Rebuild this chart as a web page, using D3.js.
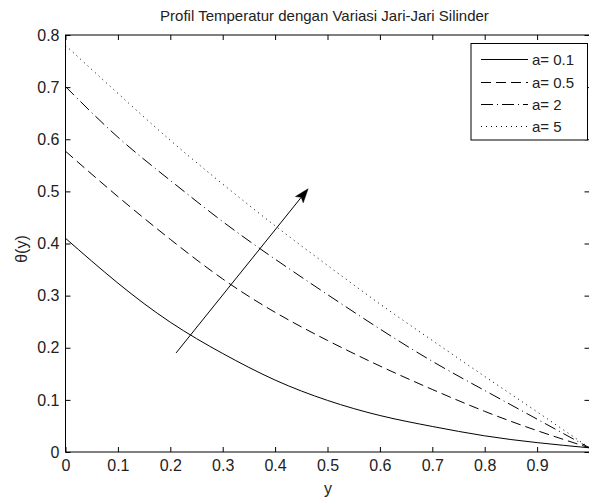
<!DOCTYPE html>
<html>
<head>
<meta charset="utf-8">
<script src="https://cdn.jsdelivr.net/npm/d3@7"></script>
<style>
html,body{margin:0;padding:0;background:#fff;}
svg{display:block;font-family:"Liberation Sans",Arial,sans-serif;}
</style>
</head>
<body>
<svg id="chart" width="589" height="498"></svg>
<script>
const xVals = [0, 0.1, 0.2, 0.3, 0.4, 0.5, 0.6, 0.7, 0.8, 0.9, 1.0];
const seriesA01 = [0.410, 0.324, 0.249, 0.189, 0.138, 0.099, 0.070, 0.049, 0.031, 0.018, 0.008];
const seriesA05 = [0.577, 0.490, 0.408, 0.332, 0.268, 0.214, 0.165, 0.120, 0.078, 0.041, 0.008];
const seriesA2  = [0.701, 0.604, 0.521, 0.442, 0.370, 0.302, 0.236, 0.174, 0.118, 0.063, 0.008];
const seriesA5  = [0.780, 0.688, 0.598, 0.514, 0.434, 0.358, 0.284, 0.214, 0.145, 0.077, 0.008];
const seriesNames = ["a= 0.1", "a= 0.5", "a= 2", "a= 5"];
const xTicks = [0, 0.1, 0.2, 0.3, 0.4, 0.5, 0.6, 0.7, 0.8, 0.9];
const xTickLabels = ["0", "0.1", "0.2", "0.3", "0.4", "0.5", "0.6", "0.7", "0.8", "0.9"];
const yTicks = [0, 0.1, 0.2, 0.3, 0.4, 0.5, 0.6, 0.7, 0.8];
const yTickLabels = ["0", "0.1", "0.2", "0.3", "0.4", "0.5", "0.6", "0.7", "0.8"];
const arrowFrom = [0.211, 0.19];
const arrowTo = [0.463, 0.505];
const titleText = "Profil Temperatur dengan Variasi Jari-Jari Silinder";
const xLabel = "y";
const yLabel = "θ(y)";

const dashes = [null, "10,5", "12,4,1,4", "1,4"];
const allSeries = [seriesA01, seriesA05, seriesA2, seriesA5];

const svg = d3.select("#chart");
const L = 65.5, R = 589.5, T = 35, B = 452;
const x = d3.scaleLinear().domain([0, 1]).range([L, R]);
const y = d3.scaleLinear().domain([0, 0.8]).range([B, T]);

svg.append("rect").attr("width", 589).attr("height", 498).attr("fill", "#fff");

// curves
const line = d3.line().x((d, i) => x(xVals[i])).y(d => y(d)).curve(d3.curveNatural);
allSeries.forEach((s, k) => {
  const p = svg.append("path").datum(s).attr("d", line)
    .attr("fill", "none").attr("stroke", "#000").attr("stroke-width", 1);
  if (dashes[k]) p.attr("stroke-dasharray", dashes[k]);
});

// axes
function styleAxis(g) {
  g.select(".domain").remove();
  g.selectAll(".tick line").attr("stroke", "#000");
  g.selectAll("text").attr("fill", "#222").style("font-size", "16px")
    .style("font-family", '"Liberation Sans", Arial, sans-serif');
}
svg.append("g").attr("transform", `translate(0,${B})`)
  .call(d3.axisBottom(x).tickValues(xTicks).tickFormat((d, i) => xTickLabels[i]).tickSizeInner(-5).tickSizeOuter(0).tickPadding(8))
  .call(styleAxis);
svg.append("g").attr("transform", `translate(${L},0)`)
  .call(d3.axisLeft(y).tickValues(yTicks).tickFormat((d, i) => yTickLabels[i]).tickSizeInner(-5).tickSizeOuter(0).tickPadding(6))
  .call(styleAxis);
svg.append("g").attr("transform", `translate(0,${T})`)
  .call(d3.axisTop(x).tickValues(xTicks).tickFormat("").tickSizeInner(-5).tickSizeOuter(0))
  .call(styleAxis);
svg.append("g").attr("transform", `translate(${R},0)`)
  .call(d3.axisRight(y).tickValues(yTicks).tickFormat("").tickSizeInner(-5).tickSizeOuter(0))
  .call(styleAxis);

// box
svg.append("rect").attr("x", L).attr("y", T).attr("width", R - L).attr("height", B - T)
  .attr("fill", "none").attr("stroke", "#000").attr("stroke-width", 1);

// arrow
const ax0 = x(arrowFrom[0]), ay0 = y(arrowFrom[1]);
const ax1 = x(arrowTo[0]), ay1 = y(arrowTo[1]);
const ang = Math.atan2(ay1 - ay0, ax1 - ax0);
const hl = 14, hw = 5;
const bx = ax1 - hl * Math.cos(ang), by = ay1 - hl * Math.sin(ang);
const nx = -Math.sin(ang), ny = Math.cos(ang);
svg.append("line").attr("x1", ax0).attr("y1", ay0).attr("x2", bx + 3 * Math.cos(ang)).attr("y2", by + 3 * Math.sin(ang))
  .attr("stroke", "#000").attr("stroke-width", 1);
const notch = 3;
svg.append("path")
  .attr("d", `M${ax1},${ay1} L${bx + hw * nx},${by + hw * ny} L${bx + notch * Math.cos(ang)},${by + notch * Math.sin(ang)} L${bx - hw * nx},${by - hw * ny} Z`)
  .attr("fill", "#000").attr("stroke", "#000").attr("stroke-width", 0.5);

// title & labels
svg.append("text").attr("x", (L + R) / 2 - 3).attr("y", 21).attr("text-anchor", "middle")
  .style("font-size", "15px").attr("fill", "#222").text(titleText);
svg.append("text").attr("x", 328).attr("y", 494).attr("text-anchor", "middle")
  .style("font-size", "16px").attr("fill", "#222").text(xLabel);
svg.append("text").attr("transform", "translate(27,249) rotate(-90)").attr("text-anchor", "middle")
  .style("font-size", "16px").attr("fill", "#222").text(yLabel);

// legend
const lg = svg.append("g");
lg.append("rect").attr("x", 471).attr("y", 43.5).attr("width", 116.5).attr("height", 96.5)
  .attr("fill", "#fff").attr("stroke", "#000").attr("stroke-width", 1);
const rowY = [59.5, 82.5, 104.5, 126.5];
seriesNames.forEach((n, k) => {
  const l = lg.append("line").attr("x1", 481).attr("x2", 528).attr("y1", rowY[k]).attr("y2", rowY[k])
    .attr("stroke", "#000").attr("stroke-width", 1);
  if (dashes[k]) l.attr("stroke-dasharray", dashes[k]);
  lg.append("text").attr("x", 532).attr("y", rowY[k] + 5.5).style("font-size", "15px").attr("fill", "#222").text(n);
});
</script>
</body>
</html>
